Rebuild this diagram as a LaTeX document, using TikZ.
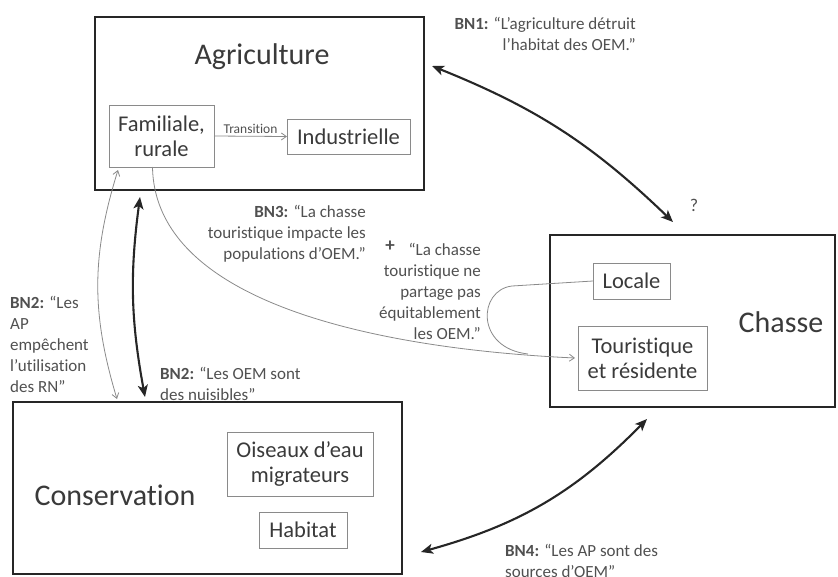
\documentclass[tikz,border=0pt]{standalone}
\usepackage{fontspec}
\setmainfont{Carlito}[Ligatures={NoCommon,NoContextual}]
\usetikzlibrary{arrows.meta}

\definecolor{ink}{HTML}{262626}
\definecolor{txt}{HTML}{3A3A3A}
\definecolor{lbltxt}{HTML}{505050}
\definecolor{subline}{HTML}{8A8A8A}

\tikzset{
  mainbox/.style={draw=ink, line width=2.4pt, inner sep=0pt, outer sep=0pt},
  title/.style={text=txt, font=\fontsize{30}{35}\selectfont, inner sep=0pt},
  subbox/.style={draw=subline, line width=0.9pt, inner sep=0pt, outer sep=0pt,
    text=txt, align=center, font=\fontsize{22.5}{25}\selectfont},
  lbl/.style={text=lbltxt, font=\fontsize{17}{21}\selectfont, inner sep=0pt},
  bigarrow/.style={draw=ink, line width=2.1pt,
    {Stealth[length=12pt,width=10pt,inset=3pt]}-{Stealth[length=12pt,width=10pt,inset=3pt]}},
  thinlink/.style={draw=subline, line width=0.8pt},
  thintip/.style={-{Straight Barb[length=5pt,width=7pt]}}
}

\begin{document}
\begin{tikzpicture}[x=1pt,y=-1pt]
\useasboundingbox (0,0) rectangle (838,576);

% main domains
\node[mainbox, minimum width=329, minimum height=173] (agri) at (259.5,103.5) {};
\node[mainbox, minimum width=285, minimum height=172] (chasse) at (692.5,321) {};
\node[mainbox, minimum width=389, minimum height=172] (cons) at (207.5,488) {};

\node[title] (agrit) at (262,57) {Agriculture};
\node[title] (chasset) at (781,322) {Chasse};
\node[title] (const) at (115,495) {Conservation};

% sub-categories
\node[subbox, minimum width=105, minimum height=62] (fam) at (161.5,136) {Familiale,\\rurale};
\node[subbox, minimum width=123, minimum height=35] (ind) at (348.5,136.5) {Industrielle};
\node[subbox, minimum width=77, minimum height=36] (loc) at (631.5,281) {Locale};
\node[subbox, minimum width=129, minimum height=64] (tour) at (642.5,358) {Touristique\\et résidente};
\node[subbox, minimum width=146, minimum height=64] (ois) at (300,464) {Oiseaux d’eau\\migrateurs};
\node[subbox, minimum width=88, minimum height=36] (hab) at (303,530) {Habitat};

% transition inside agriculture
\draw[thinlink, thintip] (fam.east) -- (ind.west)
  node[midway, above=2pt, text=lbltxt, font=\fontsize{13.5}{15}\selectfont, inner sep=0pt] (trans) {Transition};

% connector end points
\coordinate (bn1a) at (432,66);
\coordinate (bn1b) at (673,222);
\coordinate (bn2a) at (140,197);
\coordinate (bn2b) at (145,397);
\coordinate (bn2c) at (117,399);
\coordinate (bn2d) at (118,170);
\coordinate (bn4a) at (647,419);
\coordinate (bn4b) at (421,552);
\coordinate (bn3a) at ([xshift=-9pt]fam.south);
\coordinate (bn3b) at ([xshift=-3pt]tour.west);
\coordinate (lockink) at (512,286);
\coordinate (locjoin) at (528,354);

% belief links
\draw[bigarrow] (bn1a) to[bend left=11] (bn1b);
\draw[bigarrow] (bn2a) to[bend right=9] (bn2b);
\draw[thinlink, {Straight Barb[length=5pt,width=7pt]}-{Straight Barb[length=5pt,width=7pt]}]
  (bn2c) to[bend left=17] (bn2d);
\draw[bigarrow] (bn4a) to[bend left=15] (bn4b);
\draw[thinlink, thintip] (bn3a) .. controls (155,310) and (400,350) .. (bn3b);
\draw[thinlink] (loc.west) -- (lockink) .. controls (478,290) and (475,348) .. (locjoin);

% labels
\node[lbl, anchor=east, align=right] (bn1) at (636,34)
  {\textbf{BN1:} “L’agriculture détruit\\l’habitat des OEM.”};
\node[lbl, font=\fontsize{18}{20}\selectfont] (q) at (694,205) {?};
\node[lbl, anchor=east, align=right] (bn3) at (366,234)
  {\textbf{BN3:} “La chasse\\touristique impacte les\\populations d’OEM.”};
\node[lbl, font=\fontsize{19}{20}\selectfont\bfseries] (plus) at (390,246) {+};
\node[lbl, anchor=east, align=right] (bn3b) at (481,291)
  {“La chasse\\touristique ne\\partage pas\\équitablement\\les OEM.”};
\node[lbl, anchor=west, align=left] (bn2l) at (10,344)
  {\textbf{BN2:} “Les\\AP\\empêchent\\l’utilisation\\des RN”};
\node[lbl, anchor=west, align=left] (bn2r) at (160,384)
  {\textbf{BN2:} “Les OEM sont\\des nuisibles”};
\node[lbl, anchor=west, align=left] (bn4) at (505,561)
  {\textbf{BN4:} “Les AP sont des\\sources d’OEM”};
\end{tikzpicture}
\end{document}
